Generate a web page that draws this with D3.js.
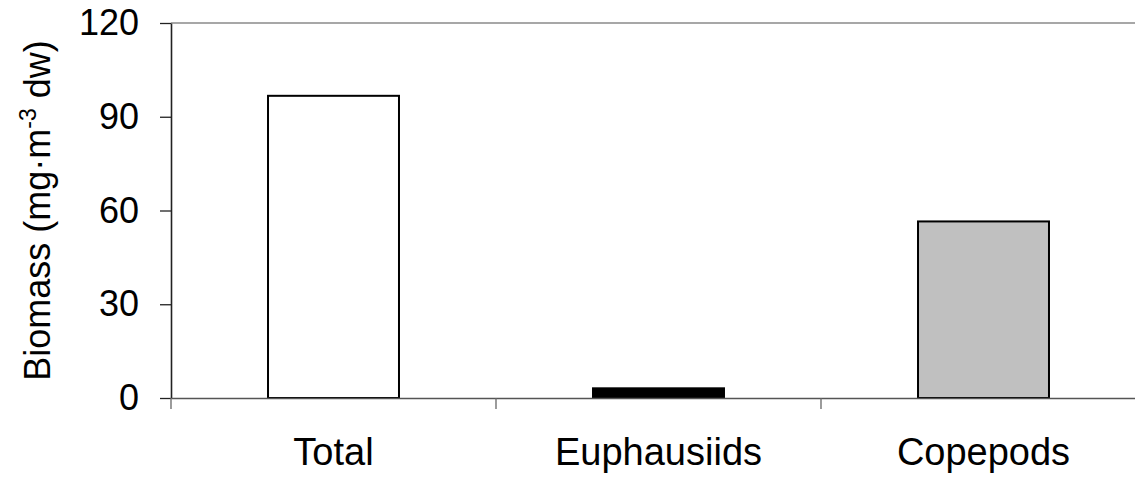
<!DOCTYPE html>
<html>
<head>
<meta charset="utf-8">
<script src="https://cdn.jsdelivr.net/npm/d3@7"></script>
<style>
  html, body { margin: 0; padding: 0; background: #fff; overflow: hidden; }
  text { font-family: "Liberation Sans", Arial, sans-serif; fill: #000; }
</style>
</head>
<body>
<svg id="chart" width="1135" height="478"></svg>
<script>
const categories = ["Total", "Euphausiids", "Copepods"];
const values = [96.7, 3.1, 56.5];
const fills = ["#ffffff", "#000000", "#c0c0c0"];
const yTicks = [0, 30, 60, 90, 120];

(function () {
const svg = d3.select("#chart");
const pLeft = 171, pRight = 1146, pTop = 23, pBottom = 398;

const x = d3.scaleBand().domain(categories).range([pLeft, pRight]).padding(0);
const y = d3.scaleLinear().domain([0, 120]).range([pBottom, pTop]);
const barW = x.bandwidth() * 0.403;

// top gridline at 120
svg.append("line")
  .attr("x1", pLeft).attr("x2", pRight)
  .attr("y1", y(120)).attr("y2", y(120))
  .attr("stroke", "#8a8a8a").attr("stroke-width", 1.6);

// bars
svg.selectAll("rect.bar").data(categories).enter().append("rect")
  .attr("class", "bar")
  .attr("x", d => x(d) + (x.bandwidth() - barW) / 2)
  .attr("width", barW)
  .attr("y", (d, i) => y(values[i]))
  .attr("height", (d, i) => y(0) - y(values[i]))
  .attr("fill", (d, i) => fills[i])
  .attr("stroke", "#000").attr("stroke-width", 2);

// y axis
const yAxis = d3.axisLeft(y).tickValues(yTicks).tickSize(11).tickPadding(21).tickSizeOuter(0);
const gy = svg.append("g").attr("transform", `translate(${pLeft},0)`).call(yAxis);
gy.select(".domain").attr("stroke", "#222").attr("stroke-width", 1.6);
gy.selectAll(".tick line").attr("stroke", "#222").attr("stroke-width", 1.3);
gy.selectAll(".tick text").style("font-size", "36px").attr("fill", "#000")
  .style("font-family", "'Liberation Sans', Arial, sans-serif");

// x axis
const xAxis = d3.axisBottom(x).tickSize(0).tickPadding(0).tickSizeOuter(0);
const gx = svg.append("g").attr("transform", `translate(0,${pBottom})`).call(xAxis);
gx.select(".domain").attr("stroke", "#555").attr("stroke-width", 1.6);
gx.selectAll(".tick text").style("font-size", "38px").attr("fill", "#000")
  .style("font-family", "'Liberation Sans', Arial, sans-serif")
  .attr("dy", null).attr("y", 67);

// category boundary ticks
const bounds = categories.map(c => x(c)).concat([x(categories[categories.length - 1]) + x.step()]);
svg.selectAll("line.bt").data(bounds).enter().append("line")
  .attr("class", "bt")
  .attr("x1", d => d).attr("x2", d => d)
  .attr("y1", pBottom).attr("y2", pBottom + 11)
  .attr("stroke", "#666").attr("stroke-width", 1.3);

// y label
const yl = svg.append("text")
  .attr("transform", `translate(50,${(pTop + pBottom) / 2}) rotate(-90)`)
  .attr("text-anchor", "middle")
  .style("font-size", "36px");
yl.append("tspan").text("Biomass (mg·m");
yl.append("tspan").text("-3").style("font-size", "23px").attr("dy", -14);
yl.append("tspan").text(" dw)").attr("dy", 14);
})();
</script>
</body>
</html>
